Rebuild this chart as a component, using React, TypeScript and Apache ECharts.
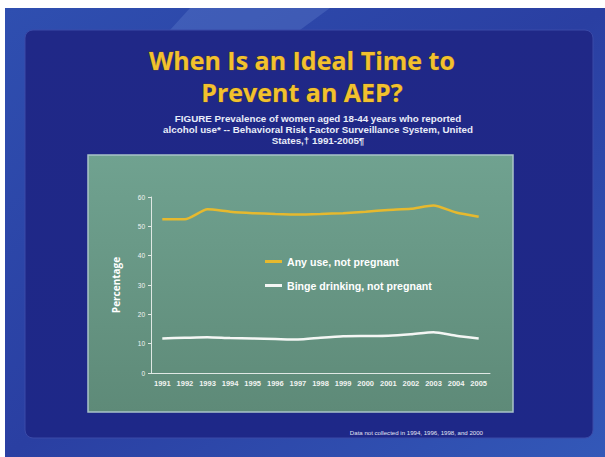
import React, { useEffect, useRef } from "react";
import * as echarts from "echarts";

const years = ["1991","1992","1993","1994","1995","1996","1997","1998","1999","2000","2001","2002","2003","2004","2005"];
const anyUse = [52.4, 52.4, 55.8, 55.0, 54.5, 54.2, 54.0, 54.2, 54.5, 55.0, 55.6, 56.0, 57.1, 54.7, 53.3];
const binge = [11.8, 12.0, 12.2, 11.9, 11.8, 11.6, 11.4, 12.0, 12.5, 12.6, 12.7, 13.2, 13.9, 12.7, 11.8];
const seriesNames = ["Any use, not pregnant", "Binge drinking, not pregnant"];
const titleLines = ["When Is an Ideal Time to", "Prevent an AEP?"];
const subtitleLines = [
  "FIGURE Prevalence of women aged 18-44 years who reported",
  "alcohol use* -- Behavioral Risk Factor Surveillance System, United",
  "States,\u2020 1991-2005\u00b6",
];
const footnote = "Data not collected in 1994, 1996, 1998, and 2000";

export default function App() {
  const ref = useRef<HTMLDivElement>(null);
  useEffect(() => {
    const chart = echarts.init(ref.current!, null, { renderer: "svg" });
    const font = "'Open Sans', 'DejaVu Sans', sans-serif";
    const arial = "'Liberation Sans', Arial, sans-serif";
    chart.setOption({
      animation: false,
      backgroundColor: "#ffffff",
      graphic: [
        { type: "rect", z: -10, shape: { x: 5, y: 8, width: 600, height: 449 },
          style: { fill: new echarts.graphic.LinearGradient(0, 0, 1, 1, [
            { offset: 0, color: "#2f4fb0" }, { offset: 0.5, color: "#2a3fa2" }, { offset: 1, color: "#3358b8" }]) } },
        { type: "polygon", z: -9, shape: { points: [[190, 8], [330, 8], [300, 30], [170, 30]] },
          style: { fill: "rgba(120,150,220,0.25)" } },
        { type: "rect", z: -8, shape: { x: 25, y: 30, width: 568, height: 408, r: 8 },
          style: { fill: new echarts.graphic.LinearGradient(0, 0, 0, 1, [
            { offset: 0, color: "#202887" }, { offset: 1, color: "#1e2888" }]), stroke: "#3a4aa8", lineWidth: 1 } },
        { type: "rect", z: -7, shape: { x: 88, y: 155, width: 425, height: 257 },
          style: { fill: new echarts.graphic.LinearGradient(0, 0, 0, 1, [
            { offset: 0, color: "#70a290" }, { offset: 1, color: "#5e8a78" }]), stroke: "#a9c3c8", lineWidth: 1.5 } },
        ...titleLines.map((t, i) => ({
          type: "text", z: 5, x: 302, y: 60 + i * 32,
          style: { text: t, fill: "#f2c12e", font: `bold 25px ${font}`, textAlign: "center", textVerticalAlign: "middle",
            stroke: "#6a5010", lineWidth: 0.6 },
        })),
        ...subtitleLines.map((t, i) => ({
          type: "text", z: 5, x: 318, y: 118 + i * 11,
          style: { text: t, fill: "#e8ecf8", font: `bold 9.8px ${arial}`, textAlign: "center", textVerticalAlign: "middle" },
        })),
        { type: "text", z: 5, x: 483, y: 432,
          style: { text: footnote, fill: "#e0e4f4", font: `6.1px ${arial}`, textAlign: "right", textVerticalAlign: "middle" } },
      ],
      grid: { left: 151, right: 115, top: 197, bottom: 84 },
      legend: {
        orient: "vertical", left: 260, top: 251, itemGap: 13, itemWidth: 17, itemHeight: 3,
        icon: "rect",
        textStyle: { color: "#ffffff", fontWeight: "bold", fontSize: 10.6, fontFamily: arial },
        data: seriesNames,
      },
      xAxis: {
        type: "category", data: years, boundaryGap: true,
        axisLine: { lineStyle: { color: "#dfe8e4", width: 1 } },
        axisTick: { show: false },
        axisLabel: { color: "#f2f4f2", fontSize: 7.5, fontWeight: "bold", fontFamily: arial, margin: 6, interval: 0 },
      },
      yAxis: {
        type: "value", min: 0, max: 60, interval: 10,
        name: "Percentage", nameLocation: "middle", nameGap: 30,
        nameTextStyle: { color: "#ffffff", fontWeight: "bold", fontSize: 10, fontFamily: font },
        axisLine: { show: true, lineStyle: { color: "#dfe8e4", width: 1 } },
        axisTick: { show: true, length: 3, lineStyle: { color: "#dfe8e4" } },
        splitLine: { show: false },
        axisLabel: { color: "#f2f4f2", fontSize: 6.5, fontFamily: arial, margin: 6 },
      },
      series: [
        { name: seriesNames[0], type: "line", data: anyUse, symbol: "none", smooth: 0.2,
          lineStyle: { color: "#e6b92e", width: 2.5 }, itemStyle: { color: "#e6b92e" } },
        { name: seriesNames[1], type: "line", data: binge, symbol: "none", smooth: 0.2,
          lineStyle: { color: "#f4f6f4", width: 2.5 }, itemStyle: { color: "#f4f6f4" } },
      ],
    });
    return () => chart.dispose();
  }, []);
  return <div ref={ref} style={{ position: "absolute", left: 0, top: 0, width: 605, height: 457 }} />;
}
